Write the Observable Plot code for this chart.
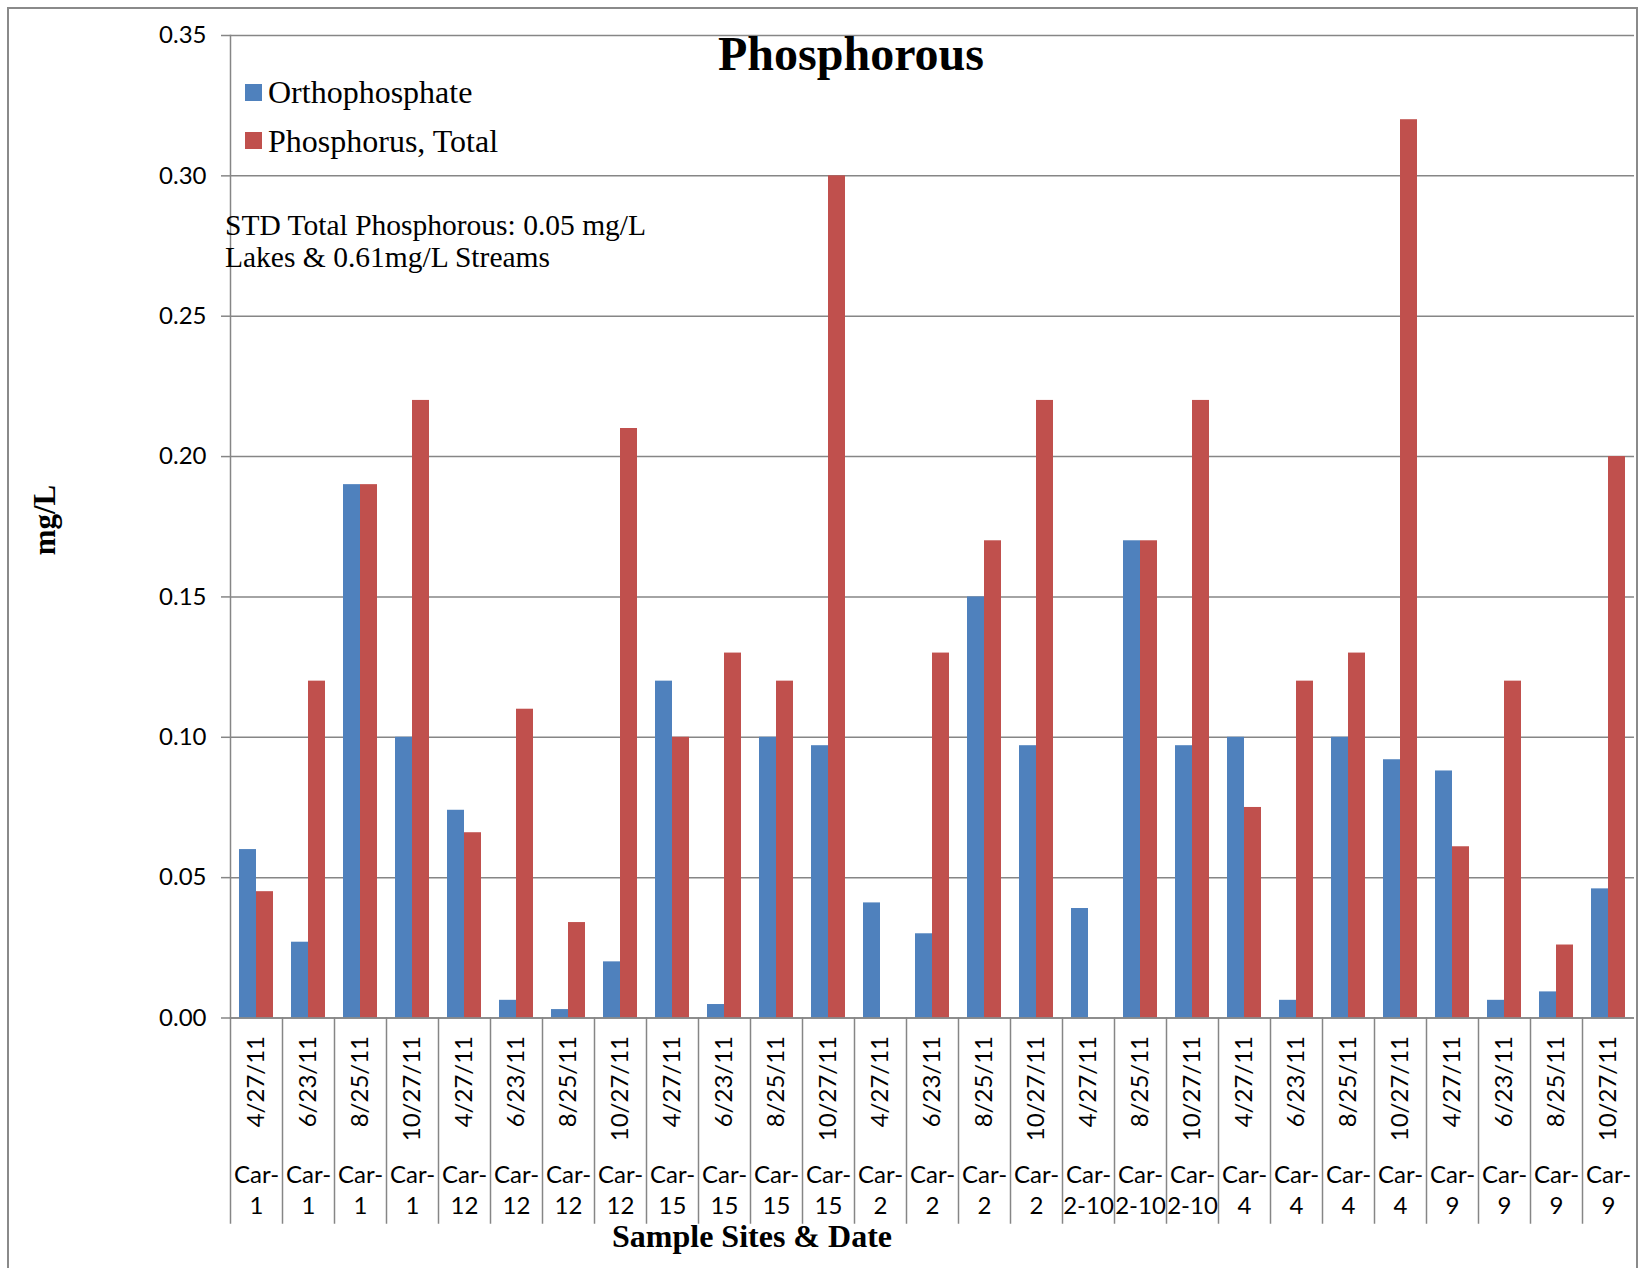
<!DOCTYPE html>
<html><head><meta charset="utf-8">
<script src="https://cdn.jsdelivr.net/npm/d3@7"></script>
<script src="https://cdn.jsdelivr.net/npm/@observablehq/plot@0.6"></script>
<style>
body{margin:0;background:#fff;}
#wrap{position:relative;width:1643px;height:1268px;overflow:hidden;background:#fff;}
.ov{position:absolute;white-space:nowrap;line-height:1;color:#000;font-family:"Liberation Serif","Times New Roman",serif;}
</style></head><body><div id="wrap"></div>
<script>
// ---- data ----
const sites = ["Car-1","Car-1","Car-1","Car-1","Car-12","Car-12","Car-12","Car-12","Car-15","Car-15","Car-15","Car-15",
  "Car-2","Car-2","Car-2","Car-2","Car-2-10","Car-2-10","Car-2-10","Car-4","Car-4","Car-4","Car-4","Car-9","Car-9","Car-9","Car-9"];
const dates = ["4/27/11","6/23/11","8/25/11","10/27/11","4/27/11","6/23/11","8/25/11","10/27/11","4/27/11","6/23/11","8/25/11","10/27/11",
  "4/27/11","6/23/11","8/25/11","10/27/11","4/27/11","8/25/11","10/27/11","4/27/11","6/23/11","8/25/11","10/27/11","4/27/11","6/23/11","8/25/11","10/27/11"];
const orthophosphate = [0.060,0.027,0.19,0.10,0.074,0.0063,0.003,0.020,0.12,0.0048,0.10,0.097,
  0.041,0.030,0.15,0.097,0.039,0.17,0.097,0.10,0.0063,0.10,0.092,0.088,0.0063,0.0093,0.046];
const phosphorusTotal = [0.045,0.12,0.19,0.22,0.066,0.11,0.034,0.21,0.10,0.13,0.12,0.30,
  null,0.13,0.17,0.22,null,0.17,0.22,0.075,0.12,0.13,0.32,0.061,0.12,0.026,0.20];
const seriesNames = ["Orthophosphate","Phosphorus, Total"];
const seriesColors = ["#4F81BD","#C0504D"];
const yTicks = [0,0.05,0.10,0.15,0.20,0.25,0.30,0.35];

// ---- build tables ----
const cats = sites.map((s,i)=>({key: i + "|" + s + "|" + dates[i], site: s, date: dates[i]}));
const rows = cats.flatMap((c,i)=>[
  {key:c.key, series:seriesNames[0], value:orthophosphate[i]},
  {key:c.key, series:seriesNames[1], value:phosphorusTotal[i]}
]).filter(d=>d.value!=null);

const W=1643, H=1268, mL=228, mR=7, mT=35, mB=250.5;
const plotH = H - mT - mB;
const gray = "#868686";

const chart = Plot.plot({
  width: W, height: H,
  marginLeft: mL, marginRight: mR, marginTop: mT, marginBottom: mB,
  style: {fontFamily: "Lato, 'Open Sans', sans-serif", fontSize: "24px", color: "#000", background: "transparent"},
  fx: {domain: cats.map(d=>d.key), padding: 0, axis: null, label: null},
  x: {domain: seriesNames, paddingInner: 0, paddingOuter: 0.5, axis: null},
  y: {domain: [0, 0.35], axis: null},
  color: {domain: seriesNames, range: seriesColors},
  marks: [
    Plot.gridY(yTicks, {stroke: gray, strokeOpacity: 1, strokeWidth: 1.5}),
    Plot.barY(rows, {fx: "key", x: "series", y: "value", fill: "series"}),
    Plot.ruleY([0], {stroke: gray, strokeWidth: 1.5}),
    Plot.axisY(yTicks, {anchor: "left", tickSize: 9, tickPadding: 15, tickFormat: d3.format(".2f"),
      fontSize: 24, stroke: gray, strokeWidth: 1.5, fill: "#000", label: null}),
    Plot.frame({anchor: "left", facetAnchor: "left", stroke: gray, strokeWidth: 1.5}),
    Plot.frame({anchor: "left", stroke: gray, strokeWidth: 1.5, insetTop: plotH, insetBottom: -205}),
    Plot.text(cats, {fx: "key", text: "date", frameAnchor: "bottom", rotate: -90, textAnchor: "end",
      lineAnchor: "middle", dy: 18, fontSize: 24, fill: "#000"}),
    Plot.text(cats, {fx: "key", text: d => d.site.replace("-", "-\n"), frameAnchor: "bottom",
      lineAnchor: "top", lineHeight: 1.3, dy: 142.5, fontSize: 24, fill: "#000"})
  ]
});

const wrap = document.getElementById("wrap");
chart.style.position = "absolute";
chart.style.left = "0px"; chart.style.top = "0px";
wrap.appendChild(chart);

function ov(html, css){
  const d = document.createElement("div");
  d.className = "ov"; d.innerHTML = html;
  Object.assign(d.style, css);
  wrap.appendChild(d);
  return d;
}
// outer chart-area border
ov("", {left:"7px", top:"7px", width:"1627px", height:"1300px", border:"2px solid #8a8a8a"});
// title
ov("Phosphorous", {left:"851px", top:"29.8px", fontSize:"48px", fontWeight:"bold", transform:"translateX(-50%)"});
// legend
seriesNames.forEach((n,i)=>{
  const top = [76.2,125.2][i];
  ov("", {left:"245px", top:([84,132][i])+"px", width:"17px", height:"17px", background:seriesColors[i]});
  ov(n, {left:"268px", top: top+"px", fontSize:"32px"});
});
// annotation
ov("STD Total Phosphorous: 0.05 mg/L<br>Lakes &amp; 0.61mg/L Streams",
   {left:"225px", top:"210px", fontSize:"29.5px", lineHeight:"31.5px"});
// axis titles
ov("mg/L", {left:"44px", top:"520px", fontSize:"31px", fontWeight:"bold", transform:"translate(-50%,-50%) rotate(-90deg)"});
ov("Sample Sites &amp; Date", {left:"752px", top:"1220px", fontSize:"32px", fontWeight:"bold", transform:"translateX(-50%)"});
</script></body></html>
